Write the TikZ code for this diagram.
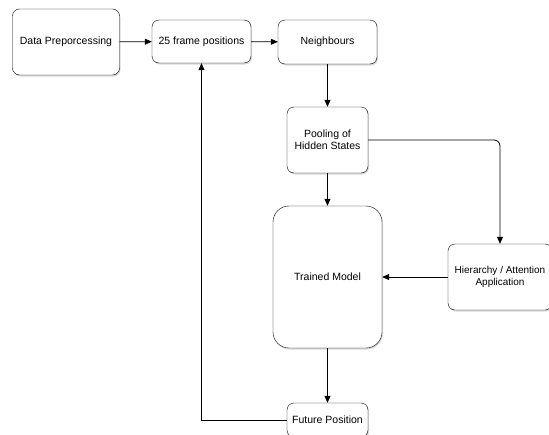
\documentclass[tikz,border=0pt]{standalone}
\usepackage{fontspec}
\setmainfont{Liberation Sans}
\usetikzlibrary{arrows.meta,shadows}
\begin{document}
\begin{tikzpicture}[x=1pt,y=-1pt,
  box/.style={draw,rounded corners=7pt,fill=white,align=center,
    drop shadow={shadow xshift=1pt,shadow yshift=-1.5pt,opacity=0.3},
    font=\fontsize{10.5}{12}\selectfont,inner sep=2pt},
  flow/.style={-{Triangle[length=7pt,width=6pt]},thick}]
\useasboundingbox (0,0) rectangle (549,434);
\clip (0,0) rectangle (549,434);
\node[box,minimum width=107pt,minimum height=66pt] (Pre) at (66,42) {Data Preporcessing};
\node[box,minimum width=99pt,minimum height=43pt] (Frames) at (201.5,41.5) {25 frame positions};
\node[box,minimum width=99pt,minimum height=44pt] (Nb) at (327.5,42) {Neighbours};
\node[box,minimum width=81pt,minimum height=66pt] (Pool) at (327.5,140) {Pooling of\\Hidden States};
\node[box,rounded corners=16pt,minimum width=109pt,minimum height=142pt] (Model) at (327.5,277) {Trained Model};
\node[box,minimum width=104pt,minimum height=66pt,font=\fontsize{10}{12}\selectfont] (Att) at (500,277) {Hierarchy / Attention\\Application};
\node[box,minimum width=81pt,minimum height=34pt] (Fut) at (327.5,420) {Future Position};
\path
  (Pre) edge[flow] (Frames)
  (Frames) edge[flow] (Nb)
  (Nb) edge[flow] (Pool)
  (Pool) edge[flow] (Model)
  (Model) edge[flow] (Fut)
  (Att) edge[flow] (Model)
;
\draw[flow,rounded corners=6pt] (Pool.east) -| (Att.north);
\draw[flow] (Fut.west) -| (Frames.south);
\end{tikzpicture}
\end{document}
